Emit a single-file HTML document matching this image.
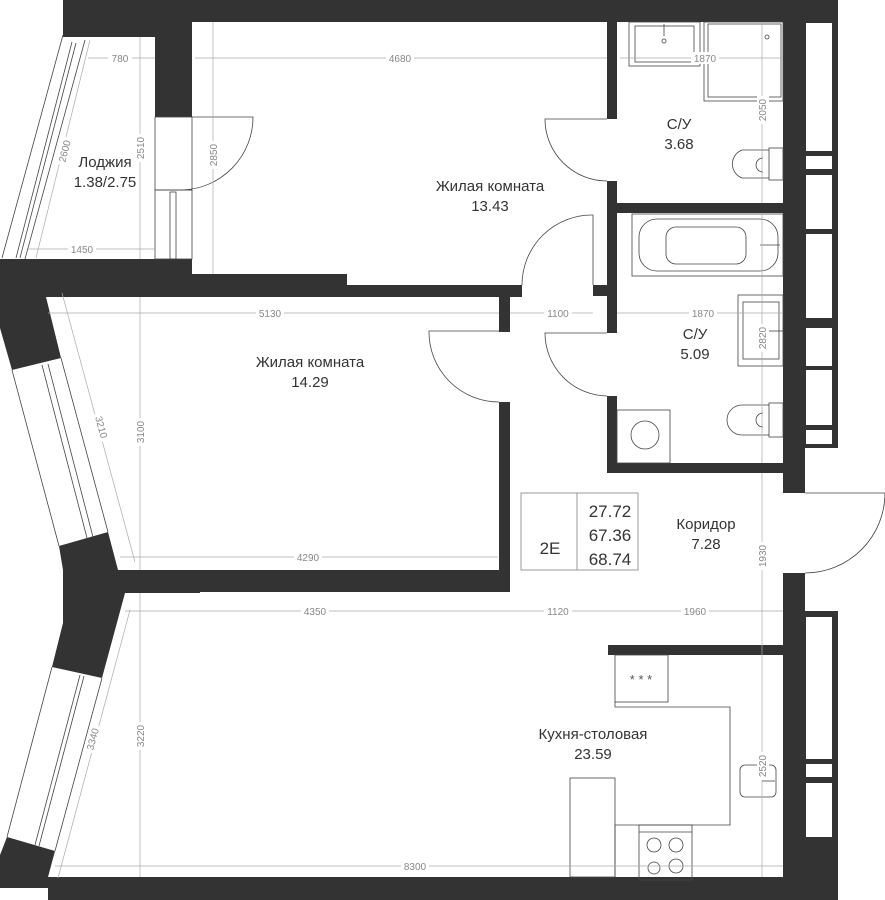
<!DOCTYPE html>
<html><head><meta charset="utf-8"><style>
html,body{margin:0;padding:0;background:#fff}
svg{display:block}
.w{fill:#333}
.l{stroke:#444;stroke-width:0.8;fill:none}
.d{stroke:#aaa;stroke-width:0.7;fill:none}
.dt{font-family:"Liberation Sans",sans-serif;font-size:10px;fill:#888}
.t{font-family:"Liberation Sans","Noto Sans CJK SC",sans-serif;font-size:15px;fill:#333;text-anchor:middle}
</style></head><body>
<svg width="885" height="900" viewBox="0 0 885 900" xmlns="http://www.w3.org/2000/svg">
<!-- walls -->
<rect class="w" x="63" y="0" width="775" height="22"/>
<rect class="w" x="63" y="0" width="92" height="37"/>
<rect class="w" x="155" y="0" width="37" height="117"/>
<rect class="w" x="0" y="259" width="192" height="38"/>
<rect class="w" x="192" y="274" width="155" height="23"/>
<rect class="w" x="347" y="285" width="175" height="12"/>
<rect class="w" x="499" y="285" width="11" height="47"/>
<rect class="w" x="593" y="285" width="24" height="11"/>
<rect class="w" x="607" y="22" width="10" height="97"/>
<rect class="w" x="607" y="181" width="10" height="152"/>
<rect class="w" x="607" y="203" width="176" height="10"/>
<rect class="w" x="607" y="396" width="10" height="77"/>
<rect class="w" x="607" y="463" width="176" height="10"/>
<rect class="w" x="783" y="22" width="22" height="471"/>
<rect class="w" x="805" y="0" width="33" height="448"/>
<rect class="w" x="499" y="402" width="11" height="190"/>
<rect class="w" x="63" y="570" width="447" height="22"/>
<rect class="w" x="63" y="570" width="137" height="23"/>
<rect class="w" x="783" y="573" width="22" height="327"/>
<rect class="w" x="805" y="611" width="33" height="289"/>
<rect class="w" x="48" y="877" width="757" height="23"/>
<rect class="w" x="608" y="645" width="175" height="10"/>
<polygon class="w" points="0,297 46,297 61,358 12,370 0,328"/>
<polygon class="w" points="59,546 108,532 118,570 63,570"/>
<polygon class="w" points="63,570 125,593 102,678 52,667 63,623"/>
<polygon class="w" points="7,837 55,851 48,877 48,888 0,888 0,855"/>
<!-- window glass white rects right -->
<g fill="#fff">
<rect x="806" y="23" width="26" height="128"/><rect x="806" y="156" width="26" height="13"/>
<rect x="806" y="175" width="26" height="54"/><rect x="806" y="234" width="26" height="84"/>
<rect x="806" y="328" width="26" height="38"/><rect x="806" y="370" width="26" height="55"/>
<rect x="806" y="430" width="26" height="14"/>
<rect x="806" y="617" width="26" height="142"/><rect x="806" y="764" width="26" height="13"/>
<rect x="806" y="783" width="26" height="54"/>
</g>
<!-- loggia glazing -->
<line class="l" x1="63" y1="35" x2="2" y2="258"/>
<line class="l" x1="85" y1="40" x2="25" y2="259"/>
<line class="l" x1="72" y1="42" x2="16" y2="258"/>
<line class="l" x1="76" y1="43" x2="20" y2="258"/>
<!-- room2 window -->
<line class="l" x1="12" y1="370" x2="59" y2="546"/>
<line class="l" x1="61" y1="358" x2="108" y2="532"/>
<line class="l" x1="42" y1="365" x2="87" y2="538"/>
<line class="l" x1="48" y1="364" x2="93" y2="537"/>
<!-- kitchen window -->
<line class="l" x1="52" y1="667" x2="7" y2="837"/>
<line class="l" x1="102" y1="678" x2="55" y2="851"/>
<line class="l" x1="80" y1="675" x2="35" y2="845"/>
<line class="l" x1="84" y1="676" x2="39" y2="846"/>
<!-- loggia door -->
<rect class="l" x="155" y="117" width="37" height="73"/>
<path class="l" d="M192,117 H253 A73,73 0 0 1 182,190"/>
<rect class="l" x="155" y="190" width="37" height="69"/>
<rect class="l" x="170" y="192" width="6" height="67"/>
<!-- doors -->
<path class="l" d="M607,119 H545 A62,62 0 0 0 607,181"/>
<path class="l" d="M607,333 H545 A63,63 0 0 0 607,396"/>
<path class="l" d="M593,285 V215 A70,70 0 0 0 522,285"/>
<path class="l" d="M499,331 H429 A70,70 0 0 0 499,402"/>
<path class="l" d="M805,493 H885 A80,80 0 0 1 805,573"/>
<!-- bath1 fixtures -->
<rect class="l" x="629" y="22" width="71" height="44"/><rect class="l" x="635" y="26" width="59" height="36"/>
<line class="l" x1="664" y1="24" x2="664" y2="36"/><circle class="l" cx="664" cy="41" r="2"/>
<rect class="l" x="704" y="22" width="79" height="79"/><rect class="l" x="708" y="24" width="73" height="73"/>
<circle class="l" cx="767" cy="37" r="2"/>
<rect class="l" x="769" y="148" width="14" height="32"/>
<path class="l" d="M769,150 H742 A15,15 0 0 0 742,178 H769"/>
<path class="l" d="M763,158 A7,7 0 0 0 763,172"/>
<!-- bath2 -->
<rect class="l" x="632" y="214" width="151" height="62"/>
<rect class="l" x="639" y="219" width="139" height="52" rx="18"/>
<rect class="l" x="666" y="227" width="80" height="37" rx="10"/>
<line class="l" x1="760" y1="245" x2="780" y2="245"/>
<rect class="l" x="738" y="295" width="45" height="71"/><rect class="l" x="743" y="302" width="36" height="57"/>
<line class="l" x1="768" y1="331" x2="783" y2="331"/>
<rect class="l" x="617" y="410" width="53" height="53"/>
<circle class="l" cx="645" cy="435" r="14"/>
<rect class="l" x="769" y="403" width="14" height="34"/>
<path class="l" d="M769,405 H742 A15,15 0 0 0 742,435 H769"/>
<path class="l" d="M763,413 A7,7 0 0 0 763,427"/>
<!-- kitchen -->
<rect class="l" x="615" y="655" width="53" height="47"/>
<text x="641" y="684" class="dt" style="font-size:13px;fill:#555" text-anchor="middle">* * *</text>
<path class="l" d="M615,702 V707 H730 V825 H615"/>
<rect class="l" x="639" y="825" width="53" height="55"/>
<line class="l" x1="639" y1="832" x2="692" y2="832"/>
<circle class="l" cx="654" cy="845" r="7"/><circle class="l" cx="676" cy="845" r="7"/>
<circle class="l" cx="654" cy="868" r="6"/><circle class="l" cx="676" cy="866" r="7"/>
<rect class="l" x="570" y="778" width="45" height="99"/>
<line class="l" x1="615" y1="825" x2="615" y2="877"/>
<rect class="l" x="740" y="765" width="36" height="32" rx="5"/>
<line class="l" x1="762" y1="781" x2="775" y2="781"/>
<!-- info box -->
<rect x="521" y="493" width="117" height="77" fill="none" stroke="#999" stroke-width="1"/>
<line x1="577" y1="493" x2="577" y2="570" stroke="#999"/>
<!-- dimension lines -->
<g class="d">
<line x1="88" y1="58" x2="155" y2="58"/><line x1="195" y1="58" x2="607" y2="58"/><line x1="620" y1="58" x2="783" y2="58"/>
<line x1="140" y1="37" x2="140" y2="259"/><line x1="213" y1="22" x2="213" y2="274"/>
<line x1="28" y1="249" x2="155" y2="249"/>
<line x1="90" y1="40" x2="36" y2="258"/>
<line x1="762" y1="22" x2="762" y2="203"/><line x1="762" y1="213" x2="762" y2="463"/><line x1="762" y1="473" x2="762" y2="877"/>
<line x1="48" y1="313" x2="499" y2="313"/><line x1="510" y1="313" x2="593" y2="313"/><line x1="617" y1="313" x2="783" y2="313"/>
<line x1="140" y1="297" x2="140" y2="570"/>
<line x1="62" y1="293" x2="135" y2="562"/>
<line x1="120" y1="557" x2="498" y2="557"/>
<line x1="125" y1="611" x2="783" y2="611"/>
<line x1="140" y1="593" x2="140" y2="877"/>
<line x1="130" y1="610" x2="58" y2="878"/>
<line x1="55" y1="866" x2="783" y2="866"/>
</g>
<g class="dt" text-anchor="middle">
<rect x="108" y="52" width="24" height="12" fill="#fff"/><text x="120" y="62">780</text>
<rect x="386" y="52" width="28" height="12" fill="#fff"/><text x="400" y="62">4680</text>
<rect x="691" y="52" width="28" height="12" fill="#fff"/><text x="705" y="62">1870</text>
<rect x="68" y="243" width="28" height="12" fill="#fff"/><text x="82" y="253">1450</text>
<rect x="256" y="307" width="28" height="12" fill="#fff"/><text x="270" y="317">5130</text>
<rect x="544" y="307" width="28" height="12" fill="#fff"/><text x="558" y="317">1100</text>
<rect x="689" y="307" width="28" height="12" fill="#fff"/><text x="703" y="317">1870</text>
<rect x="294" y="551" width="28" height="12" fill="#fff"/><text x="308" y="561">4290</text>
<rect x="301" y="605" width="28" height="12" fill="#fff"/><text x="315" y="615">4350</text>
<rect x="544" y="605" width="28" height="12" fill="#fff"/><text x="558" y="615">1120</text>
<rect x="681" y="605" width="28" height="12" fill="#fff"/><text x="695" y="615">1960</text>
<rect x="401" y="860" width="28" height="12" fill="#fff"/><text x="415" y="870">8300</text>
<g transform="translate(144,148) rotate(-90)"><rect x="-14" y="-9" width="28" height="12" fill="#fff"/><text>2510</text></g>
<g transform="translate(217,155) rotate(-90)"><rect x="-14" y="-9" width="28" height="12" fill="#fff"/><text>2850</text></g>
<g transform="translate(766,110) rotate(-90)"><rect x="-14" y="-9" width="28" height="12" fill="#fff"/><text>2050</text></g>
<g transform="translate(766,338) rotate(-90)"><rect x="-14" y="-9" width="28" height="12" fill="#fff"/><text>2820</text></g>
<g transform="translate(766,556) rotate(-90)"><rect x="-14" y="-9" width="28" height="12" fill="#fff"/><text>1930</text></g>
<g transform="translate(766,766) rotate(-90)"><rect x="-14" y="-9" width="28" height="12" fill="#fff"/><text>2520</text></g>
<g transform="translate(144,432) rotate(-90)"><rect x="-14" y="-9" width="28" height="12" fill="#fff"/><text>3100</text></g>
<g transform="translate(144,736) rotate(-90)"><rect x="-14" y="-9" width="28" height="12" fill="#fff"/><text>3220</text></g>
<g transform="translate(68,152) rotate(-76)"><rect x="-14" y="-9" width="28" height="12" fill="#fff"/><text>2600</text></g>
<g transform="translate(98,428) rotate(75)"><rect x="-14" y="-9" width="28" height="12" fill="#fff"/><text>3210</text></g>
<g transform="translate(96,740) rotate(-75)"><rect x="-14" y="-9" width="28" height="12" fill="#fff"/><text>3340</text></g>
</g>
<!-- labels -->
<text class="t" x="105" y="167">Лоджия</text><text class="t" x="105" y="187">1.38/2.75</text>
<text class="t" x="490" y="191">Жилая комната</text><text class="t" x="490" y="211">13.43</text>
<text class="t" x="679" y="129">С/У</text><text class="t" x="679" y="149">3.68</text>
<text class="t" x="695" y="339">С/У</text><text class="t" x="695" y="359">5.09</text>
<text class="t" x="310" y="367">Жилая комната</text><text class="t" x="310" y="387">14.29</text>
<text class="t" x="706" y="529">Коридор</text><text class="t" x="706" y="549">7.28</text>
<text class="t" x="593" y="739">Кухня-столовая</text><text class="t" x="593" y="759">23.59</text>
<text class="t" x="550" y="554" style="font-size:17px">2E</text>
<text class="t" x="610" y="517" style="font-size:17px">27.72</text>
<text class="t" x="610" y="541" style="font-size:17px">67.36</text>
<text class="t" x="610" y="565" style="font-size:17px">68.74</text>
</svg>
</body></html>
